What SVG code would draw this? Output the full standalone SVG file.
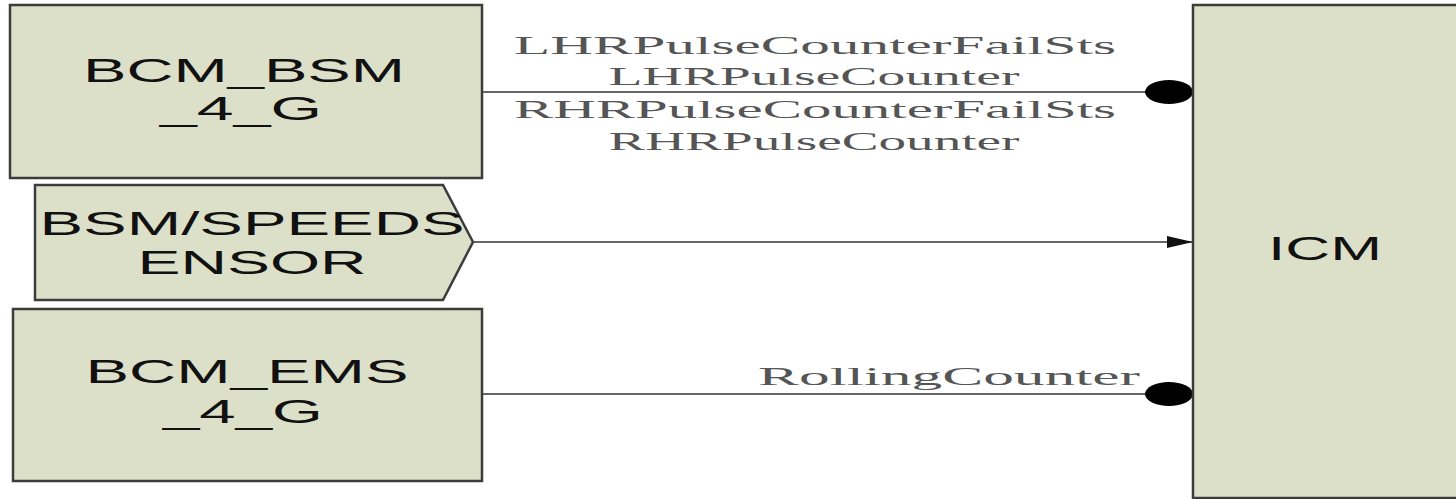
<svg xmlns="http://www.w3.org/2000/svg" width="1456" height="499" viewBox="0 0 1456 499">
<style>
.box{fill:#dde0c9;stroke:#3c3c3c;stroke-width:2.5}
.lbl{font-family:"Liberation Sans",Arial,sans-serif;font-size:33px;fill:#111;text-anchor:middle}
.sig{font-family:"Liberation Serif","Times New Roman",serif;font-size:25px;fill:#555;text-anchor:middle}
.wire{stroke:#333;stroke-width:1.6;fill:none}
</style>
<defs>
<marker id="arr" markerWidth="26" markerHeight="12" refX="26" refY="6" orient="auto" markerUnits="userSpaceOnUse">
<path d="M0,0 L26,6 L0,12 z" fill="#111"/>
</marker>
</defs>
<rect width="1456" height="499" fill="#fff"/>
<g id="connectors">
<line class="wire" x1="482" y1="92" x2="1150" y2="92"/>
<ellipse cx="1169" cy="92" rx="24" ry="12" fill="#000"/>
<line class="wire" x1="473" y1="242" x2="1193" y2="242" marker-end="url(#arr)"/>
<line class="wire" x1="482" y1="394" x2="1150" y2="394"/>
<ellipse cx="1169" cy="394" rx="24" ry="12" fill="#000"/>
<text class="sig" x="815" y="54" textLength="602" lengthAdjust="spacingAndGlyphs">LHRPulseCounterFailSts</text>
<text class="sig" x="814" y="85" textLength="411" lengthAdjust="spacingAndGlyphs">LHRPulseCounter</text>
<text class="sig" x="815" y="118" textLength="602" lengthAdjust="spacingAndGlyphs">RHRPulseCounterFailSts</text>
<text class="sig" x="814" y="150" textLength="411" lengthAdjust="spacingAndGlyphs">RHRPulseCounter</text>
<text class="sig" x="949" y="385" textLength="382" lengthAdjust="spacingAndGlyphs">RollingCounter</text>
</g>
<g id="bcm_bsm">
<rect class="box" x="10" y="5" width="472" height="173"/>
<text class="lbl" x="244" y="82" textLength="322" lengthAdjust="spacingAndGlyphs">BCM_BSM</text>
<text class="lbl" x="241" y="120" textLength="162" lengthAdjust="spacingAndGlyphs">_4_G</text>
</g>
<g id="bsm_speedsensor">
<path class="box" d="M35,185 L443,185 L473,242 L443,300 L35,300 Z"/>
<text class="lbl" x="252" y="235" textLength="425" lengthAdjust="spacingAndGlyphs">BSM/SPEEDS</text>
<text class="lbl" x="252" y="274" textLength="229" lengthAdjust="spacingAndGlyphs">ENSOR</text>
</g>
<g id="bcm_ems">
<rect class="box" x="13" y="309" width="469" height="172"/>
<text class="lbl" x="247" y="383" textLength="323" lengthAdjust="spacingAndGlyphs">BCM_EMS</text>
<text class="lbl" x="243" y="423" textLength="160" lengthAdjust="spacingAndGlyphs">_4_G</text>
</g>
<g id="icm">
<rect class="box" x="1193" y="5" width="275" height="493"/>
<text class="lbl" x="1325" y="260" textLength="114" lengthAdjust="spacingAndGlyphs">ICM</text>
</g>
</svg>
